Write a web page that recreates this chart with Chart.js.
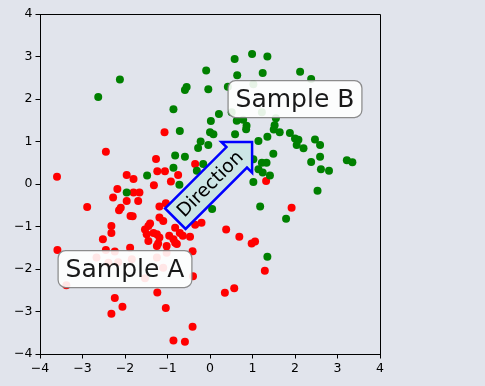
<!DOCTYPE html>
<html>
<head>
<meta charset="utf-8">
<script src="https://cdn.jsdelivr.net/npm/chart.js@4/dist/chart.umd.min.js"></script>
<style>
  html, body { margin: 0; padding: 0; background: #e1e4ec; }
  body { width: 485px; height: 386px; overflow: hidden; }
  canvas { display: block; }
</style>
</head>
<body>
<canvas id="c" width="485" height="386"></canvas>
<script>
// ---- data ----
const redPoints = [
  [-3.60, 0.17], [-2.45, 0.76], [-1.07, 1.22], [-1.27, 0.59], [-1.96, 0.21], [-1.80, 0.12],
  [-1.24, 0.30], [-1.06, 0.30], [-0.75, 0.21], [-1.32, -0.03], [-0.92, 0.06], [-0.35, 0.47],
  [-2.18, -0.12], [-2.28, -0.32], [-1.80, -0.20], [-1.66, -0.20], [-2.89, -0.54], [-2.14, -0.62],
  [-2.10, -0.56], [-1.96, -0.40], [-1.69, -0.40], [-1.87, -0.75], [-1.82, -0.76], [-1.04, -0.45],
  [-1.19, -0.53], [-1.10, -0.87], [-1.19, -0.79], [-2.32, -0.99], [-2.32, -1.15], [-2.52, -1.30],
  [-1.53, -1.07], [-1.45, -0.99], [-1.41, -0.93], [-1.33, -1.15], [-1.25, -1.18], [-1.19, -1.26],
  [-1.45, -1.34], [-1.25, -1.46], [-0.96, -1.22], [-0.86, -1.30], [-0.82, -1.03], [-0.71, -1.15],
  [-0.64, -1.22], [-0.47, -1.24], [-0.82, -1.38], [-1.02, -1.46], [-0.41, -1.58], [-0.35, -0.96],
  [-0.20, -0.91], [-3.59, -1.55], [-1.88, -1.50], [-2.24, -1.59], [-2.45, -1.55], [-2.67, -1.73],
  [-2.39, -1.85], [-1.84, -1.77], [-1.25, -1.73], [-1.02, -1.62], [-1.10, -1.97], [-1.53, -2.22],
  [-0.40, -2.17], [-3.38, -2.38], [-1.24, -2.55], [-2.24, -2.68], [-2.06, -2.89], [-2.32, -3.05],
  [-1.04, -2.92], [-0.41, -3.36], [-0.86, -3.68], [-0.59, -3.71], [0.38, -1.07], [0.69, -1.24],
  [0.98, -1.40], [1.06, -1.35], [1.29, -2.04], [1.92, -0.56], [0.35, -2.56], [0.57, -2.45],
  [1.32, 0.07], [-1.49, -1.18], [-1.22, -1.40], [-0.78, -1.41], [-2.16, -1.84]
];
const greenPoints = [
  [-2.63, 2.05], [-2.12, 2.46], [-0.86, 1.76], [-0.71, 1.25], [-0.82, 0.67], [-0.59, 0.64],
  [-0.86, 0.38], [-1.48, 0.20], [-0.72, -0.02], [-0.55, 2.28], [-0.59, 2.21], [-0.09, 2.67],
  [-0.04, 2.23], [0.58, 2.94], [0.64, 2.56], [0.99, 3.06], [0.02, 1.48], [0.21, 1.65],
  [0.08, 1.17], [0.00, 1.22], [-0.22, 1.00], [-0.04, 0.92], [-0.28, 0.85], [0.59, 1.17],
  [0.86, 1.37], [0.85, 1.29], [0.42, 2.29], [-1.96, -0.20], [0.05, -0.59], [1.35, 3.00],
  [1.24, 2.61], [2.12, 2.64], [2.38, 2.47], [1.55, 1.55], [1.52, 1.38], [1.50, 1.28],
  [1.64, 1.22], [1.88, 1.20], [2.00, 1.07], [2.08, 1.04], [2.04, 0.92], [2.20, 0.84],
  [2.47, 1.05], [2.59, 0.92], [2.59, 0.64], [2.38, 0.52], [2.61, 0.35], [2.80, 0.31],
  [3.22, 0.56], [3.35, 0.51], [1.35, 1.11], [1.14, 1.01], [0.78, 1.51], [0.63, 1.49],
  [1.49, 0.71], [1.02, 0.58], [1.22, 0.50], [1.33, 0.50], [1.14, 0.35], [1.24, 0.27],
  [1.41, 0.20], [1.02, 0.05], [2.53, -0.16], [1.02, 2.35], [1.22, 1.69], [0.51, 1.69],
  [-0.16, 0.47], [-0.31, 0.31], [1.18, -0.53], [1.79, -0.82], [1.35, -1.71]
];
const xTickValues = [-4, -3, -2, -1, 0, 1, 2, 3, 4];
const yTickValues = [-4, -3, -2, -1, 0, 1, 2, 3, 4];
const axisMin = -4, axisMax = 4;
const sampleLabels = [
  { text: 'Sample A', x: -2, y: -2 },
  { text: 'Sample B', x: 2, y: 2 }
];
const arrowLabel = { text: 'Direction', x: 0, y: 0, angle: 45 };

const FONT = '"DejaVu Sans", "Liberation Sans", sans-serif';
const fmt = v => (v < 0 ? '\u2212' + Math.abs(v) : String(v));

const overlay = {
  id: 'overlay',
  afterDatasetsDraw(chart) {
    const { ctx, chartArea: a, scales } = chart;
    const xs = scales.x, ys = scales.y;
    ctx.save();
    // spines top/right
    ctx.strokeStyle = '#000';
    ctx.lineWidth = 1;
    ctx.beginPath();
    ctx.moveTo(Math.round(a.left) + 0.5, Math.round(a.top) + 0.5);
    ctx.lineTo(Math.round(a.right) + 0.5, Math.round(a.top) + 0.5);
    ctx.lineTo(Math.round(a.right) + 0.5, Math.round(a.bottom) + 0.5);
    ctx.stroke();

    // Sample boxes
    ctx.font = '25px ' + FONT;
    ctx.textAlign = 'center';
    ctx.textBaseline = 'middle';
    sampleLabels.forEach(l => {
      const px = xs.getPixelForValue(l.x), py = ys.getPixelForValue(l.y);
      const w = ctx.measureText(l.text).width + 15, h = 37, r = 7.5;
      const x0 = px - w / 2, y0 = py - h / 2;
      ctx.beginPath();
      ctx.roundRect(x0, y0, w, h, r);
      ctx.fillStyle = 'rgba(255,255,255,0.9)';
      ctx.fill();
      ctx.strokeStyle = 'rgba(128,128,128,0.9)';
      ctx.lineWidth = 1.25;
      ctx.stroke();
      ctx.fillStyle = 'rgba(0,0,0,0.9)';
      ctx.fillText(l.text, px, py + 1);
    });

    // Direction arrow
    const cx = xs.getPixelForValue(arrowLabel.x), cy = ys.getPixelForValue(arrowLabel.y);
    ctx.translate(cx, cy);
    ctx.rotate(-arrowLabel.angle * Math.PI / 180);
    const tail = -49, bw = 14.5, hb = 37.8, hw = 21.75, tip = 59.5;
    ctx.beginPath();
    ctx.moveTo(tail, -bw);
    ctx.lineTo(hb, -bw);
    ctx.lineTo(hb, -hw);
    ctx.lineTo(tip, 0);
    ctx.lineTo(hb, hw);
    ctx.lineTo(hb, bw);
    ctx.lineTo(tail, bw);
    ctx.closePath();
    ctx.fillStyle = 'rgb(204,229,229)';
    ctx.fill();
    ctx.strokeStyle = '#0000ff';
    ctx.lineWidth = 2.5;
    ctx.lineJoin = 'miter';
    ctx.stroke();
    ctx.fillStyle = '#000';
    ctx.font = '18.75px ' + FONT;
    ctx.fillText(arrowLabel.text, 0, 1);
    ctx.restore();
  }
};

const tickCommon = (vals) => ({
  color: '#000',
  font: { family: FONT, size: 12.5 },
  padding: 3,
  autoSkip: false,
  maxRotation: 0,
  callback: v => fmt(v)
});

new Chart(document.getElementById('c'), {
  type: 'scatter',
  data: {
    datasets: [
      {
        label: 'g',
        data: greenPoints.map(p => ({ x: p[0], y: p[1] })),
        backgroundColor: '#008000', borderColor: '#008000',
        pointRadius: 4, borderWidth: 0, order: 0
      },
      {
        label: 'r',
        data: redPoints.map(p => ({ x: p[0], y: p[1] })),
        backgroundColor: '#ff0000', borderColor: '#ff0000',
        pointRadius: 4, borderWidth: 0, order: 1
      }
    ]
  },
  options: {
    responsive: false,
    animation: false,
    devicePixelRatio: 1,
    layout: { padding: { left: 0, top: 14, right: 105, bottom: 0 } },
    plugins: { legend: { display: false }, tooltip: { enabled: false } },
    scales: {
      x: {
        type: 'linear', min: axisMin, max: axisMax,
        afterBuildTicks: s => { s.ticks = xTickValues.map(v => ({ value: v })); },
        afterFit: s => { s.height = 32; },
        grid: { drawOnChartArea: false, drawTicks: true, tickLength: 4.5, color: '#000', lineWidth: 1 },
        border: { display: true, color: '#000', width: 1 },
        ticks: tickCommon(xTickValues)
      },
      y: {
        type: 'linear', min: axisMin, max: axisMax,
        afterBuildTicks: s => { s.ticks = yTickValues.map(v => ({ value: v })); },
        afterFit: s => { s.width = 40; },
        grid: { drawOnChartArea: false, drawTicks: true, tickLength: 4.5, color: '#000', lineWidth: 1 },
        border: { display: true, color: '#000', width: 1 },
        ticks: tickCommon(yTickValues)
      }
    }
  },
  plugins: [overlay]
});
</script>
</body>
</html>
